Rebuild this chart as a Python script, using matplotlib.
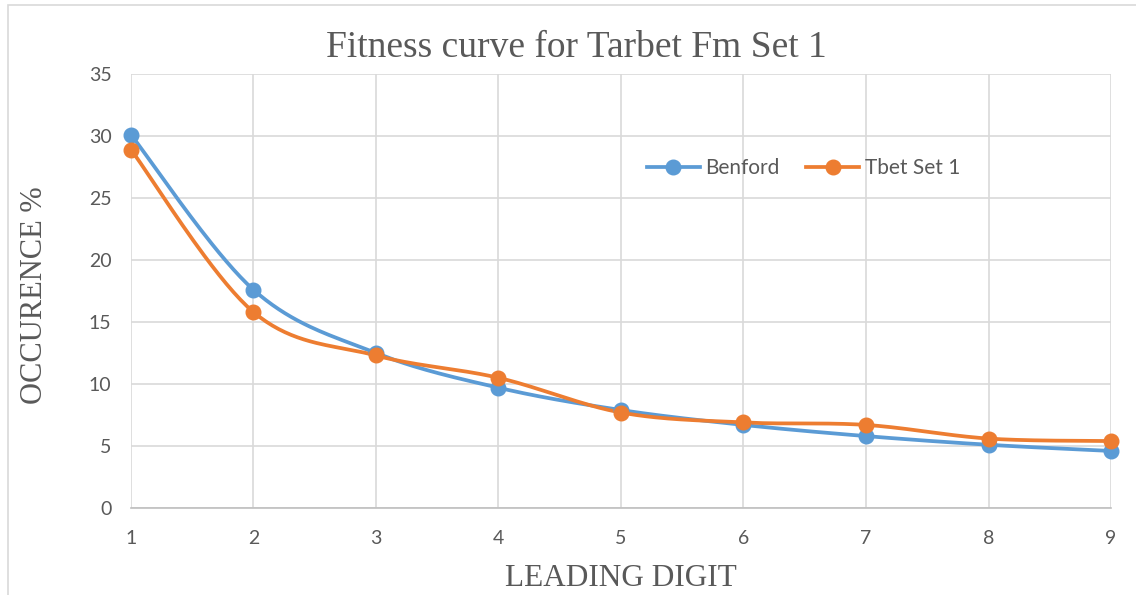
import matplotlib
matplotlib.use("Agg")
import matplotlib.pyplot as plt
import numpy as np
from matplotlib.patches import Rectangle

digits = [1, 2, 3, 4, 5, 6, 7, 8, 9]
benford = [30.1, 17.6, 12.5, 9.7, 7.9, 6.7, 5.8, 5.1, 4.6]
tbet_set1 = [28.9, 15.8, 12.3, 10.5, 7.7, 6.9, 6.7, 5.6, 5.4]
y_ticks = [0, 5, 10, 15, 20, 25, 30, 35]

BLUE = "#5B9BD5"
ORANGE = "#ED7D31"
GRID = "#d9d9d9"
TEXT = "#595959"


def smooth(x, y, steps=40):
    # Catmull-Rom spline through the points (same look as a smoothed line chart)
    x = np.asarray(x, float)
    y = np.asarray(y, float)
    px = np.concatenate([[x[0]], x, [x[-1]]])
    py = np.concatenate([[y[0]], y, [y[-1]]])
    xs, ys = [], []
    t = np.linspace(0, 1, steps)
    for i in range(1, len(px) - 2):
        p0, p1, p2, p3 = (np.array([px[j], py[j]]) for j in range(i - 1, i + 3))
        c1 = p1 + (p2 - p0) / 6
        c2 = p2 - (p3 - p1) / 6
        b = ((1 - t) ** 3)[:, None] * p1 + (3 * (1 - t) ** 2 * t)[:, None] * c1 \
            + (3 * (1 - t) * t ** 2)[:, None] * c2 + (t ** 3)[:, None] * p2
        xs.append(b[:, 0])
        ys.append(b[:, 1])
    return np.concatenate(xs), np.concatenate(ys)


fig = plt.figure(figsize=(11.36, 5.95), dpi=100)
ax = fig.add_axes([0.1153, 0.1462, 0.8627, 0.7294])

# outer chart frame
fig.patches.append(Rectangle((8 / 1136, -0.1), 1.2, 1.1 - 5 / 595,
                             transform=fig.transFigure, fill=False,
                             edgecolor=GRID, linewidth=1.2))

for vals, color, name in [(benford, BLUE, "Benford"), (tbet_set1, ORANGE, "Tbet Set 1")]:
    sx, sy = smooth(digits, vals)
    ax.plot(sx, sy, color=color, linewidth=2.7, solid_capstyle="round", clip_on=False, zorder=3)
    ax.plot(digits, vals, "o", color=color, markersize=10.5, clip_on=False, zorder=4)
    ax.plot([], [], color=color, linewidth=2.7, marker="o", markersize=10.5, label=name)

ax.set_xlim(1, 9)
ax.set_ylim(0, 35)
ax.set_xticks(digits)
ax.set_yticks(y_ticks)
ax.grid(True, color=GRID, linewidth=1.2)
ax.set_axisbelow(True)
for side in ["top", "right", "left"]:
    ax.spines[side].set_visible(False)
ax.spines["bottom"].set_color("#bfbfbf")
ax.spines["bottom"].set_linewidth(1.2)
ax.tick_params(length=0, labelsize=14, labelcolor=TEXT, pad=14)
ax.tick_params(axis="x", pad=16)
for lbl in ax.get_xticklabels() + ax.get_yticklabels():
    lbl.set_fontfamily("Lato")

fig.text(0.507, 1 - 48 / 595, "Fitness curve for Tarbet Fm Set 1", fontfamily="Liberation Serif",
         fontsize=27, color=TEXT, ha="center", va="center")
fig.text(0.5466, 1 - 578 / 595, "LEADING DIGIT", fontfamily="Liberation Serif",
         fontsize=22.5, color=TEXT, ha="center", va="center")
fig.text(35 / 1136, 0.5 + 2 / 595, "OCCURENCE %", fontfamily="Liberation Serif",
         fontsize=22, color=TEXT, ha="center", va="center", rotation=90)

leg = ax.legend(loc="center", bbox_to_anchor=(0.686, 0.783), ncol=2, frameon=False,
                prop={"family": "Lato", "size": 15}, labelcolor=TEXT,
                handlelength=2.55, columnspacing=1.3, handletextpad=0.25)

fig.savefig("out.png", dpi=100)
